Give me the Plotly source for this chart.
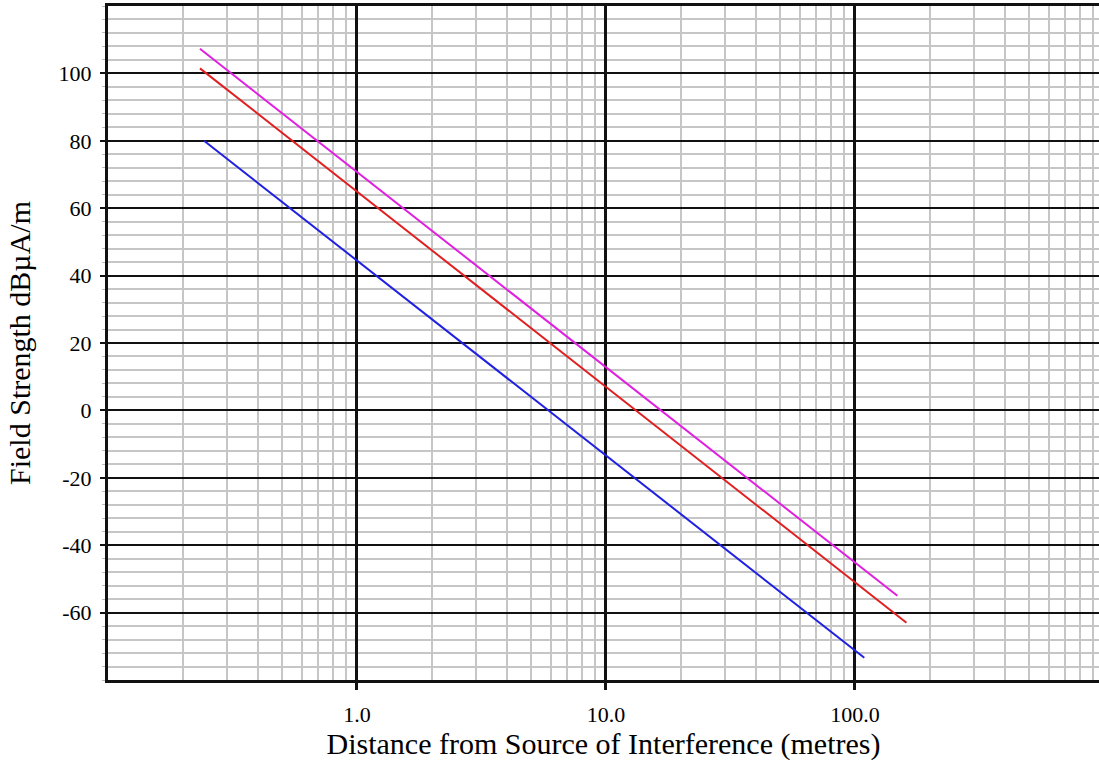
import plotly.graph_objects as go

# Series data (distance in metres, field strength in dBuA/m)
series_names = ["Upper", "Middle", "Lower"]
dist_upper = [0.234, 148.0]
field_upper = [107.3, -55.0]
dist_middle = [0.234, 161.0]
field_middle = [101.5, -63.0]
dist_lower = [0.243, 109.0]
field_lower = [80.0, -73.4]

x_tick_vals = [1, 10, 100]
x_tick_text = ["1.0", "10.0", "100.0"]
y_tick_vals = [-60, -40, -20, 0, 20, 40, 60, 80, 100]
y_tick_text = ["-60", "-40", "-20", "0", "20", "40", "60", "80", "100"]

colors = ["#e020e0", "#e02020", "#2020e0"]

fig = go.Figure()
for name, xs, ys, c in zip(series_names,
                           [dist_upper, dist_middle, dist_lower],
                           [field_upper, field_middle, field_lower],
                           colors):
    fig.add_trace(go.Scatter(x=xs, y=ys, mode="lines", name=name,
                             line=dict(color=c, width=2), showlegend=False))

font_family = "Liberation Serif"

fig.update_layout(
    width=1099, height=764,
    margin=dict(l=108, r=0, t=6, b=84),
    paper_bgcolor="white", plot_bgcolor="white",
    font=dict(family=font_family, color="black"),
    xaxis=dict(
        type="log", range=[-1, 2.98],
        tickmode="array", tickvals=x_tick_vals, ticktext=x_tick_text,
        tickfont=dict(size=22, family=font_family),
        ticklabelstandoff=6,
        showgrid=True, gridcolor="#111111", gridwidth=2.5,
        ticks="outside", ticklen=7, tickwidth=2.5, tickcolor="#111111",
        showline=True, linecolor="#111111", linewidth=2.5, mirror=True,
        zeroline=False,
        minor=dict(dtick="D1", showgrid=True, gridcolor="#c6c6c6", gridwidth=2),
        title=dict(text="Distance from Source of Interference (metres)",
                   font=dict(size=30, family=font_family), standoff=4),
    ),
    yaxis=dict(
        range=[-80, 120],
        tickmode="array", tickvals=y_tick_vals, ticktext=y_tick_text,
        tickfont=dict(size=22, family=font_family),
        ticklabelstandoff=4,
        showgrid=True, gridcolor="#111111", gridwidth=1.5,
        ticks="outside", ticklen=5, tickwidth=2, tickcolor="#111111",
        showline=True, linecolor="#111111", linewidth=3,
        zeroline=False,
        minor=dict(dtick=4, tick0=0, showgrid=True, gridcolor="#c6c6c6", gridwidth=2,
                   ticks="outside", ticklen=3, tickcolor="#bbbbbb", tickwidth=1),
        title=dict(text="Field Strength dBµA/m",
                   font=dict(size=30, family=font_family), standoff=20),
    ),
)

fig.write_html("out.html")
